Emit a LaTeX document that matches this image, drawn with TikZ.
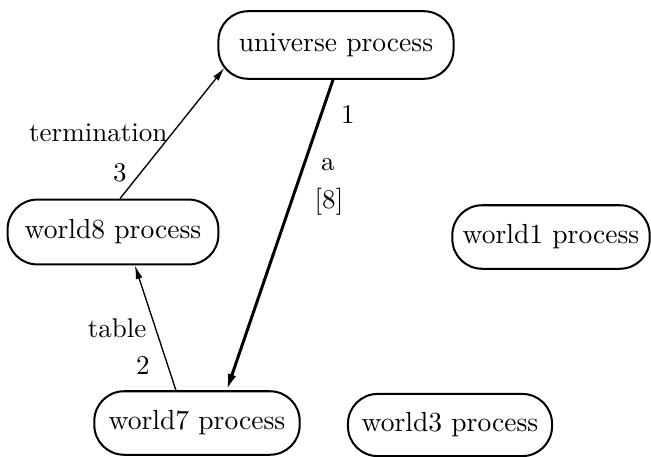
\documentclass[tikz,border=0pt]{standalone}
\usetikzlibrary{arrows.meta,calc}
\begin{document}
\begin{tikzpicture}[x=0.37pt,y=-0.37pt,
  proc/.style={draw,line width=0.75pt,rounded corners=11pt,minimum height=24pt,inner sep=0pt,font=\fontsize{10.2}{12}\selectfont},
  lbl/.style={inner sep=0pt,font=\fontsize{10}{12}\selectfont},
  thinarrow/.style={line width=0.5pt,-{Latex[length=5pt,width=2.6pt]}},
  thickarrow/.style={line width=1.1pt,-{Latex[length=6pt,width=3.2pt]}}]
\useasboundingbox (0,0) rectangle (651,456);
\node[proc,minimum width=87pt,minimum height=25pt] (univ) at (336,45) {universe process};
\node[proc,minimum width=78pt] (w8) at (113,232) {world8 process};
\node[proc,minimum width=73pt,minimum height=23.5pt] (w1) at (551,237) {world1 process};
\node[proc,minimum width=76pt,minimum height=23.5pt] (w7) at (197,423) {world7 process};
\node[proc,minimum width=75.5pt,minimum height=23pt] (w3) at (450,425) {world3 process};
\draw[thickarrow] ([xshift=-1.1pt]univ.south) -- ([xshift=11pt]w7.north);
\draw[thinarrow] ([xshift=-7.8pt]w7.north) -- ([xshift=8.1pt]w8.south);
\draw[thinarrow] ([xshift=2.6pt]w8.north) -- ([xshift=2.6pt,yshift=4.4pt]univ.south west);
\node[lbl,anchor=east] (lterm) at (168,133) {termination};
\node[lbl] (l3) at (120,173) {3};
\node[lbl] (l1) at (348,114) {1};
\node[lbl] (la) at (328,165) {a};
\node[lbl] (l8) at (329,202) {[8]};
\node[lbl,anchor=east] (ltable) at (147,328) {table};
\node[lbl] (l2) at (143,365) {2};
\end{tikzpicture}
\end{document}
